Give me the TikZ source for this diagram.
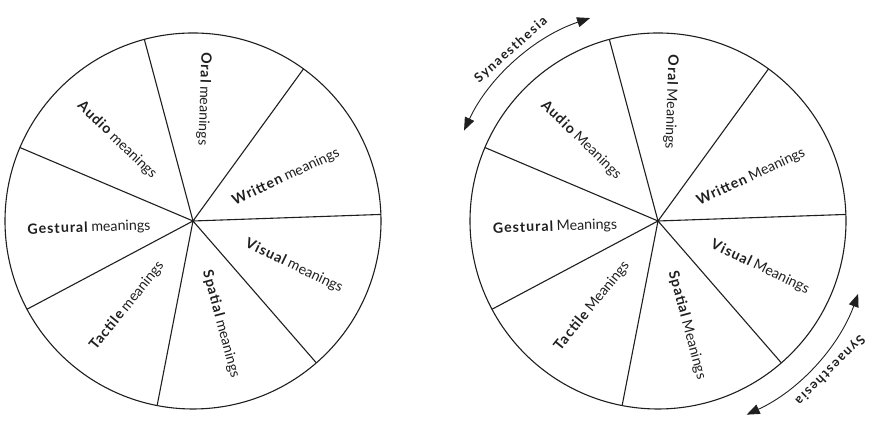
\documentclass[tikz,border=0pt]{standalone}
\usepackage{fontspec}
\setmainfont{Lato}
\usetikzlibrary{arrows.meta}
\newcommand\bw[1]{{\bfseries\addfontfeatures{LetterSpace=7}#1}}
\begin{document}
\begin{tikzpicture}[x=1pt,y=1pt,
  ink/.style={draw=black!88, line width=1.1pt},
  wheel/.style={circle, ink, minimum size=376pt, inner sep=0pt, outer sep=0pt},
  lbl/.style={font=\fontsize{14.2}{16}\selectfont, inner sep=1pt, text=black!88},
  syn/.style={font=\fontsize{13}{15}\selectfont\bfseries\addfontfeatures{LetterSpace=12}, inner sep=1pt, text=black!88},
  arr/.style={draw=black!88, line width=0.9pt, {Triangle[length=13pt,width=10pt]}-{Triangle[length=13pt,width=10pt]}}]
\useasboundingbox[fill=white] (0,0) rectangle (887,435);

% left wheel
\node[wheel] (lc) at (193,214) {};
\foreach \a in {105.3,54.4,2.8,311.5,259.6,208.5,157.8}
  \draw[ink] (lc.center) -- (lc.\a);
\fill[black!88] (lc.center) circle (1.6);
\node[lbl, rotate=-92]  (lOral)  at ([shift={(11,122)}]lc.center)  {\bw{Oral} meanings};
\node[lbl, rotate=-44]  (lAudio) at ([shift={(-76,81)}]lc.center)  {\bw{Audio} meanings};
\node[lbl, rotate=25]   (lWrit)  at ([shift={(93,44)}]lc.center)   {\bw{Written} meanings};
\node[lbl, rotate=2]    (lGest)  at ([shift={(-104,-7)}]lc.center) {\bw{Gestural} meanings};
\node[lbl, rotate=-25.6](lVis)   at ([shift={(101,-45)}]lc.center) {\bw{Visual} meanings};
\node[lbl, rotate=-75]  (lSpat)  at ([shift={(28,-103)}]lc.center) {\bw{Spatial} meanings};
\node[lbl, rotate=51]   (lTact)  at ([shift={(-66,-85)}]lc.center) {\bw{Tactile} meanings};

% right wheel
\node[wheel] (rc) at (658,214) {};
\foreach \a in {105.3,54.4,2.8,311.5,259.6,208.5,157.8}
  \draw[ink] (rc.center) -- (rc.\a);
\fill[black!88] (rc.center) circle (1.6);
\node[lbl, rotate=-92]  (rOral)  at ([shift={(13,119)}]rc.center)  {\bw{Oral} Meanings};
\node[lbl, rotate=-44]  (rAudio) at ([shift={(-77,81)}]rc.center)  {\bw{Audio} Meanings};
\node[lbl, rotate=25]   (rWrit)  at ([shift={(93,44)}]rc.center)   {\bw{Written} Meanings};
\node[lbl, rotate=2]    (rGest)  at ([shift={(-103,-6)}]rc.center) {\bw{Gestural} Meanings};
\node[lbl, rotate=-25.6](rVis)   at ([shift={(102,-46)}]rc.center) {\bw{Visual} Meanings};
\node[lbl, rotate=-75]  (rSpat)  at ([shift={(29,-104)}]rc.center) {\bw{Spatial} Meanings};
\node[lbl, rotate=51]   (rTact)  at ([shift={(-66,-85)}]rc.center) {\bw{Tactile} Meanings};

% synaesthesia arrows
\coordinate (u1) at ([shift={(155:214)}]rc.center);
\draw[arr] (u1) arc[start angle=155, end angle=108.5, radius=214];
\coordinate (d1) at ([shift={(-20:213)}]rc.center);
\draw[arr] (d1) arc[start angle=-20, end angle=-65.4, radius=213];
\node[syn, rotate=41.6] (synU) at ([shift={(-147,171)}]rc.center) {Synaesthesia};
\node[syn, rotate=225]  (synD) at ([shift={(172,-149)}]rc.center) {Synaesthesia};
\end{tikzpicture}
\end{document}
